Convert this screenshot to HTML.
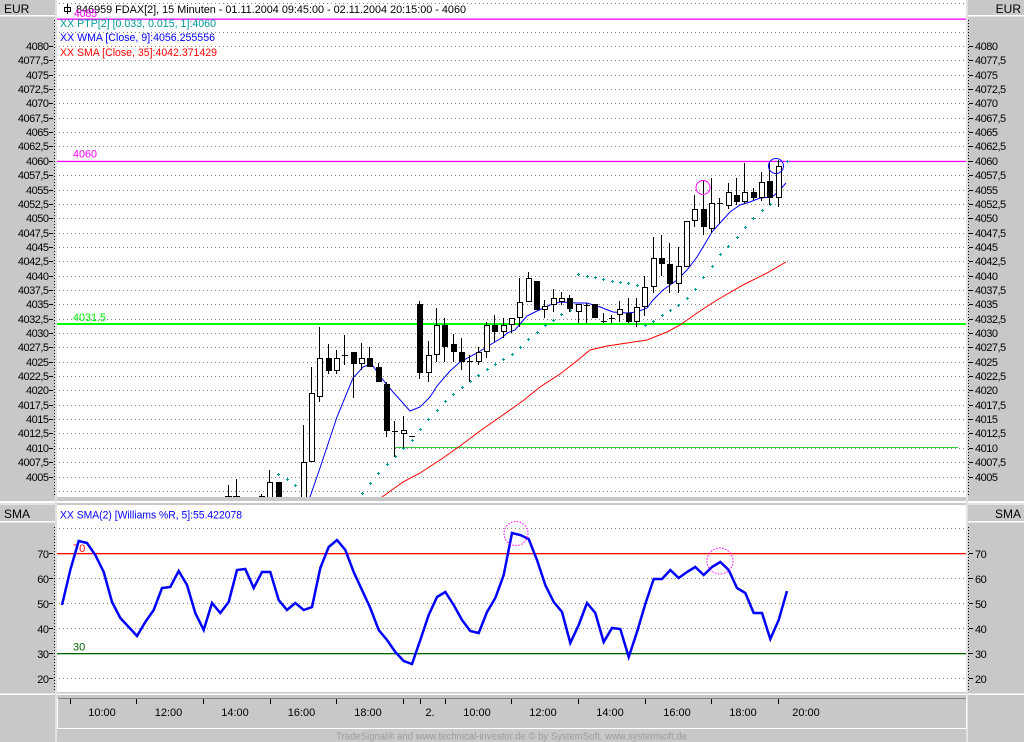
<!DOCTYPE html>
<html><head><meta charset="utf-8"><style>
html,body{margin:0;padding:0;background:#c8c8c8;}
svg{display:block;font-family:"Liberation Sans",Arial,sans-serif;}
.ax{font-size:11px;letter-spacing:-0.5px;fill:#000;}
</style></head><body>
<svg width="1024" height="742" viewBox="0 0 1024 742" xmlns="http://www.w3.org/2000/svg">
<defs>
<clipPath id="cm"><rect x="57" y="0" width="909" height="497"/></clipPath>
<clipPath id="ci"><rect x="57" y="505" width="909" height="187"/></clipPath>
</defs>
<rect x="0" y="0" width="1024" height="742" fill="#c8c8c8"/>
<!-- panels -->
<rect x="57" y="0" width="909" height="497" fill="#fff"/>
<rect x="0" y="501" width="1024" height="2" fill="#fff"/>
<rect x="57" y="505" width="909" height="187" fill="#fff"/>
<rect x="0" y="693.5" width="1024" height="1.5" fill="#fff"/>
<rect x="55" y="0" width="2" height="742" fill="#e2e2e2"/>
<rect x="966" y="0" width="2" height="742" fill="#e2e2e2"/>
<rect x="57" y="505" width="909" height="187" fill="#fff"/>
<rect x="57" y="0" width="909" height="497" fill="#fff"/>
<!-- header boxes -->
<rect x="0" y="15" width="55" height="1.5" fill="#fff"/>
<rect x="968" y="15" width="56" height="1.5" fill="#fff"/>
<text x="4" y="13" font-size="12" fill="#000">EUR</text>
<text x="1021" y="13" font-size="12" fill="#000" text-anchor="end">EUR</text>
<rect x="0" y="503.5" width="55" height="1" fill="#fff"/>
<rect x="0" y="521" width="55" height="1.5" fill="#fff"/>
<rect x="968" y="503.5" width="56" height="1" fill="#fff"/>
<rect x="968" y="521" width="56" height="1.5" fill="#fff"/>
<text x="4" y="518" font-size="12" fill="#000">SMA</text>
<text x="1021" y="518" font-size="12" fill="#000" text-anchor="end">SMA</text>

<!-- main grid -->
<path stroke="#808080" stroke-width="1" stroke-dasharray="1 3" fill="none" d="M59 3.5H966M59 32.5H966M59 46.5H966M59 60.5H966M59 75.5H966M59 89.5H966M59 103.5H966M59 118.5H966M59 132.5H966M59 146.5H966M59 175.5H966M59 190.5H966M59 204.5H966M59 218.5H966M59 233.5H966M59 247.5H966M59 261.5H966M59 276.5H966M59 290.5H966M59 304.5H966M59 319.5H966M59 333.5H966M59 347.5H966M59 362.5H966M59 376.5H966M59 390.5H966M59 405.5H966M59 419.5H966M59 433.5H966M59 448.5H966M59 462.5H966M59 477.5H966M59 491.5H966"/>
<!-- main axis dotted verticals -->
<path stroke="#000" stroke-dasharray="1 2" d="M54.5 20V496M968.5 20V496M54.5 527V691M968.5 527V691"/>
<!-- ticks main -->
<path stroke="#000" d="M49 46.5h4M49 60.5h4M49 75.5h4M49 89.5h4M49 103.5h4M49 118.5h4M49 132.5h4M49 146.5h4M49 161.5h4M49 175.5h4M49 190.5h4M49 204.5h4M49 218.5h4M49 233.5h4M49 247.5h4M49 261.5h4M49 276.5h4M49 290.5h4M49 304.5h4M49 319.5h4M49 333.5h4M49 347.5h4M49 362.5h4M49 376.5h4M49 390.5h4M49 405.5h4M49 419.5h4M49 433.5h4M49 448.5h4M49 462.5h4M49 477.5h4
M969 46.5h4M969 60.5h4M969 75.5h4M969 89.5h4M969 103.5h4M969 118.5h4M969 132.5h4M969 146.5h4M969 161.5h4M969 175.5h4M969 190.5h4M969 204.5h4M969 218.5h4M969 233.5h4M969 247.5h4M969 261.5h4M969 276.5h4M969 290.5h4M969 304.5h4M969 319.5h4M969 333.5h4M969 347.5h4M969 362.5h4M969 376.5h4M969 390.5h4M969 405.5h4M969 419.5h4M969 433.5h4M969 448.5h4M969 462.5h4M969 477.5h4
M49 553.5h4M49 578.5h4M49 603.5h4M49 628.5h4M49 653.5h4M49 678.5h4M969 553.5h4M969 578.5h4M969 603.5h4M969 628.5h4M969 653.5h4M969 678.5h4"/>
<!-- left labels -->
<g class="ax" text-anchor="end">
<text x="48.5" y="50">4080</text><text x="48.5" y="64">4077,5</text><text x="48.5" y="79">4075</text><text x="48.5" y="93">4072,5</text><text x="48.5" y="107">4070</text><text x="48.5" y="122">4067,5</text><text x="48.5" y="136">4065</text><text x="48.5" y="150">4062,5</text><text x="48.5" y="165">4060</text><text x="48.5" y="179">4057,5</text><text x="48.5" y="194">4055</text><text x="48.5" y="208">4052,5</text><text x="48.5" y="222">4050</text><text x="48.5" y="237">4047,5</text><text x="48.5" y="251">4045</text><text x="48.5" y="265">4042,5</text><text x="48.5" y="280">4040</text><text x="48.5" y="294">4037,5</text><text x="48.5" y="308">4035</text><text x="48.5" y="323">4032,5</text><text x="48.5" y="337">4030</text><text x="48.5" y="351">4027,5</text><text x="48.5" y="366">4025</text><text x="48.5" y="380">4022,5</text><text x="48.5" y="394">4020</text><text x="48.5" y="409">4017,5</text><text x="48.5" y="423">4015</text><text x="48.5" y="437">4012,5</text><text x="48.5" y="452">4010</text><text x="48.5" y="466">4007,5</text><text x="48.5" y="481">4005</text>
<text x="48.5" y="558">70</text><text x="48.5" y="583">60</text><text x="48.5" y="608">50</text><text x="48.5" y="633">40</text><text x="48.5" y="658">30</text><text x="48.5" y="683">20</text>
</g>
<!-- right labels -->
<g class="ax">
<text x="975" y="50">4080</text><text x="975" y="64">4077,5</text><text x="975" y="79">4075</text><text x="975" y="93">4072,5</text><text x="975" y="107">4070</text><text x="975" y="122">4067,5</text><text x="975" y="136">4065</text><text x="975" y="150">4062,5</text><text x="975" y="165">4060</text><text x="975" y="179">4057,5</text><text x="975" y="194">4055</text><text x="975" y="208">4052,5</text><text x="975" y="222">4050</text><text x="975" y="237">4047,5</text><text x="975" y="251">4045</text><text x="975" y="265">4042,5</text><text x="975" y="280">4040</text><text x="975" y="294">4037,5</text><text x="975" y="308">4035</text><text x="975" y="323">4032,5</text><text x="975" y="337">4030</text><text x="975" y="351">4027,5</text><text x="975" y="366">4025</text><text x="975" y="380">4022,5</text><text x="975" y="394">4020</text><text x="975" y="409">4017,5</text><text x="975" y="423">4015</text><text x="975" y="437">4012,5</text><text x="975" y="452">4010</text><text x="975" y="466">4007,5</text><text x="975" y="481">4005</text>
<text x="975" y="558">70</text><text x="975" y="583">60</text><text x="975" y="608">50</text><text x="975" y="633">40</text><text x="975" y="658">30</text><text x="975" y="683">20</text>
</g>

<g clip-path="url(#cm)">
<!-- horizontal level lines -->
<rect x="57" y="18.5" width="909" height="1.3" fill="#ff00ff"/>
<rect x="57" y="160.8" width="909" height="1.3" fill="#ff00ff"/>
<rect x="57" y="323" width="909" height="2" fill="#00ff00"/>
<rect x="395" y="447" width="563" height="1" fill="#33cc33"/>
<text x="73" y="157.5" font-size="11" fill="#ff00ff" textLength="24" lengthAdjust="spacingAndGlyphs">4060</text>
<text x="73" y="321" font-size="11" fill="#00ee00" textLength="33" lengthAdjust="spacingAndGlyphs">4031.5</text>

<!-- SMA red -->
<polyline fill="none" stroke="#ff0000" stroke-width="1" points="382,497 403,482 420,473 440,460 460,446 480,431 500,417 524,400 540,387 560,374 578,360 590,350 607,346 627,343 647,340 667,332 680,325 700,311 717,300 743,285 767,273 786,262"/>
<!-- WMA blue -->
<polyline fill="none" stroke="#0000ff" stroke-width="1" points="310,497 320,468 337,417 353,378 363,367 368,365 373,366 383,380 393,392 402,402 410,411 420,407 430,397 437,386 450,371 460,362 477,353 490,345 503,337 507,333 515,330 520,324 527,316 537,311 550,305 560,302 577,303 587,303 600,307 613,312 627,313 637,312 647,308 653,300 663,290 677,280 687,270 697,257 703,247 712,232 720,223 730,212 740,205 750,202 760,198 772,197 778,192 786,183"/>

<!-- PSAR dots -->
<path fill="none" stroke="#009999" stroke-width="1" d="M277 474.5h3M278.5 473v3M286 479.5h3M287.5 478v3M294 485.5h3M295.5 484v3
M361 493.5h3M362.5 492v3M369 483.5h3M370.5 482v3M377 473.5h3M378.5 472v3M386 464.5h3M387.5 463v3M394 456.5h3M395.5 455v3M402 448.5h3M403.5 447v3M411 440.5h3M412.5 439v3M419 429.5h3M420.5 428v3M427 419.5h3M428.5 418v3M436 410.5h3M437.5 409v3M444 401.5h3M445.5 400v3M452 394.5h3M453.5 393v3M461 387.5h3M462.5 386v3M469 381.5h3M470.5 380v3M477 375.5h3M478.5 374v3M486 369.5h3M487.5 368v3M494 364.5h3M495.5 363v3M502 359.5h3M503.5 358v3M511 354.5h3M512.5 353v3M519 347.5h3M520.5 346v3M527 339.5h3M528.5 338v3M536 332.5h3M537.5 331v3M544 325.5h3M545.5 324v3M552 320.5h3M553.5 319v3M560 314.5h3M561.5 313v3M569 310.5h3M570.5 309v3
M577 274.5h3M578.5 273v3M586 276.5h3M587.5 275v3M594 277.5h3M595.5 276v3M602 279.5h3M603.5 278v3M611 281.5h3M612.5 280v3M619 282.5h3M620.5 281v3M627 283.5h3M628.5 282v3M636 285.5h3M637.5 284v3
M644 325.5h3M645.5 324v3M652 321.5h3M653.5 320v3M661 315.5h3M662.5 314v3M669 310.5h3M670.5 309v3M677 305.5h3M678.5 304v3M686 298.5h3M687.5 297v3M694 289.5h3M695.5 288v3M702 277.5h3M703.5 276v3M711 266.5h3M712.5 265v3M719 254.5h3M720.5 253v3M727 246.5h3M728.5 245v3M736 237.5h3M737.5 236v3M744 227.5h3M745.5 226v3M752 218.5h3M753.5 217v3M761 210.5h3M762.5 209v3M769 204.5h3M770.5 203v3
M777 161.5h3M778.5 160v3M786 161.5h3M787.5 160v3"/>

<!-- wicks -->
<g fill="#000" shape-rendering="crispEdges">
<rect x="228" y="485" width="1" height="12"/><rect x="236" y="479" width="1" height="18"/><rect x="261" y="494" width="1" height="3"/>
<rect x="269" y="470" width="1" height="27"/><rect x="278" y="482" width="1" height="15"/><rect x="303" y="425" width="1" height="72"/>
<rect x="311" y="367" width="1" height="95"/><rect x="319" y="327" width="1" height="75"/><rect x="328" y="344" width="1" height="30"/>
<rect x="336" y="350" width="1" height="24"/><rect x="344" y="335" width="1" height="30"/><rect x="353" y="352" width="1" height="46"/>
<rect x="361" y="343" width="1" height="27"/><rect x="369" y="347" width="1" height="20"/><rect x="378" y="363" width="1" height="19"/>
<rect x="386" y="382" width="1" height="55"/><rect x="394" y="421" width="1" height="36"/><rect x="403" y="416" width="1" height="32"/>
<rect x="419" y="301" width="1" height="78"/><rect x="428" y="341" width="1" height="41"/><rect x="436" y="308" width="1" height="54"/>
<rect x="444" y="318" width="1" height="44"/><rect x="453" y="334" width="1" height="28"/><rect x="461" y="338" width="1" height="32"/>
<rect x="469" y="355" width="1" height="27"/><rect x="478" y="347" width="1" height="18"/><rect x="486" y="322" width="1" height="36"/>
<rect x="494" y="315" width="1" height="27"/><rect x="503" y="318" width="1" height="20"/><rect x="511" y="318" width="1" height="15"/>
<rect x="519" y="278" width="1" height="49"/><rect x="528" y="272" width="1" height="30"/><rect x="536" y="281" width="1" height="29"/>
<rect x="544" y="300" width="1" height="18"/><rect x="553" y="289" width="1" height="23"/><rect x="561" y="292" width="1" height="13"/>
<rect x="569" y="295" width="1" height="17"/><rect x="578" y="304" width="1" height="19"/><rect x="586" y="303" width="1" height="20"/>
<rect x="594" y="304" width="1" height="14"/><rect x="603" y="313" width="1" height="10"/><rect x="611" y="315" width="1" height="8"/>
<rect x="619" y="301" width="1" height="21"/><rect x="628" y="298" width="1" height="25"/><rect x="636" y="298" width="1" height="29"/>
<rect x="644" y="276" width="1" height="40"/><rect x="653" y="237" width="1" height="56"/><rect x="661" y="235" width="1" height="41"/>
<rect x="669" y="243" width="1" height="50"/><rect x="678" y="247" width="1" height="46"/><rect x="686" y="221" width="1" height="46"/>
<rect x="694" y="195" width="1" height="32"/><rect x="703" y="181" width="1" height="54"/><rect x="711" y="178" width="1" height="55"/>
<rect x="719" y="198" width="1" height="26"/><rect x="728" y="183" width="1" height="26"/><rect x="736" y="178" width="1" height="27"/>
<rect x="744" y="163" width="1" height="41"/><rect x="753" y="188" width="1" height="12"/><rect x="761" y="172" width="1" height="29"/>
<rect x="769" y="163" width="1" height="42"/><rect x="778" y="160" width="1" height="47"/>
<!-- doji dashes -->
<rect x="225" y="496" width="7" height="1"/><rect x="233" y="496" width="7" height="1"/><rect x="259" y="496" width="6" height="1"/>
<rect x="342" y="355" width="6" height="1"/><rect x="392" y="431" width="6" height="1"/><rect x="409" y="436" width="6" height="1"/>
<rect x="467" y="361" width="6" height="1"/><rect x="584" y="305" width="6" height="1"/><rect x="601" y="321" width="6" height="1"/>
<rect x="609" y="318" width="6" height="1"/><rect x="717" y="203" width="6" height="1"/>
<!-- black bodies -->
<rect x="276" y="482" width="6" height="15"/><rect x="326" y="358" width="6" height="13"/><rect x="351" y="352" width="6" height="12"/>
<rect x="367" y="358" width="6" height="9"/><rect x="376" y="367" width="6" height="15"/><rect x="384" y="384" width="6" height="47"/>
<rect x="417" y="304" width="6" height="69"/><rect x="442" y="325" width="6" height="22"/><rect x="451" y="344" width="6" height="8"/>
<rect x="459" y="352" width="6" height="10"/><rect x="492" y="325" width="6" height="7"/><rect x="534" y="281" width="6" height="29"/>
<rect x="567" y="298" width="6" height="11"/><rect x="592" y="304" width="6" height="14"/><rect x="626" y="313" width="6" height="9"/>
<rect x="659" y="258" width="6" height="6"/><rect x="667" y="264" width="6" height="20"/><rect x="701" y="209" width="6" height="18"/>
<rect x="734" y="195" width="6" height="7"/><rect x="751" y="192" width="6" height="6"/><rect x="767" y="181" width="6" height="17"/>
</g>
<!-- white bodies -->
<g fill="#fff" stroke="#000" stroke-width="1">
<rect x="267.5" y="482.5" width="5" height="16"/><rect x="301.5" y="462.5" width="5" height="40"/><rect x="309.5" y="393.5" width="5" height="68"/>
<rect x="317.5" y="358.5" width="5" height="38"/><rect x="334.5" y="358.5" width="5" height="12"/><rect x="359.5" y="358.5" width="5" height="5"/>
<rect x="401.5" y="430.5" width="5" height="3"/><rect x="426.5" y="355.5" width="5" height="17"/><rect x="434.5" y="325.5" width="5" height="29"/>
<rect x="476.5" y="352.5" width="5" height="9"/><rect x="484.5" y="325.5" width="5" height="26"/><rect x="501.5" y="325.5" width="5" height="6"/>
<rect x="509.5" y="318.5" width="5" height="6"/><rect x="517.5" y="302.5" width="5" height="15"/><rect x="526.5" y="278.5" width="5" height="23"/>
<rect x="542.5" y="306.5" width="5" height="3"/><rect x="551.5" y="298.5" width="5" height="6"/><rect x="559.5" y="298.5" width="5" height="3"/>
<rect x="576.5" y="304.5" width="5" height="7"/><rect x="617.5" y="309.5" width="5" height="5"/><rect x="634.5" y="307.5" width="5" height="14"/>
<rect x="642.5" y="287.5" width="5" height="19"/><rect x="651.5" y="258.5" width="5" height="28"/><rect x="676.5" y="266.5" width="5" height="17"/>
<rect x="684.5" y="221.5" width="5" height="45"/><rect x="692.5" y="209.5" width="5" height="11"/><rect x="709.5" y="203.5" width="5" height="25"/>
<rect x="726.5" y="192.5" width="5" height="13"/><rect x="742.5" y="192.5" width="5" height="9"/><rect x="759.5" y="182.5" width="5" height="15"/>
<rect x="776.5" y="166.5" width="5" height="31"/>
</g>
<!-- circles -->
<circle cx="703" cy="187.5" r="7" fill="none" stroke="#ff00ff" stroke-width="1"/>
<circle cx="776" cy="166" r="7.5" fill="none" stroke="#0000ff" stroke-width="1"/>
</g>

<!-- title & legends -->
<rect x="64.5" y="7.5" width="6" height="4" fill="none" stroke="#000" stroke-width="1"/>
<rect x="67" y="4" width="1" height="10" fill="#000"/>
<text x="76" y="13" font-size="11" fill="#000" textLength="390" lengthAdjust="spacingAndGlyphs">846959  FDAX[2], 15 Minuten - 01.11.2004 09:45:00 - 02.11.2004 20:15:00 - 4060</text>
<text x="74" y="17" font-size="11" fill="#ff00ff" textLength="23" lengthAdjust="spacingAndGlyphs">4085</text>
<text x="60" y="27" font-size="11" fill="#009999" textLength="156" lengthAdjust="spacingAndGlyphs">XX PTP[2] [0.033, 0.015, 1]:4060</text>
<text x="60" y="41" font-size="11" fill="#0000ff" textLength="155" lengthAdjust="spacingAndGlyphs">XX WMA [Close, 9]:4056.255556</text>
<text x="60" y="56" font-size="11" fill="#ff0000" textLength="157" lengthAdjust="spacingAndGlyphs">XX SMA [Close, 35]:4042.371429</text>

<!-- indicator panel -->
<g clip-path="url(#ci)">
<path stroke="#808080" stroke-width="1" stroke-dasharray="1 3" fill="none" d="M59 528.5H966M59 578.5H966M59 603.5H966M59 628.5H966M59 678.5H966"/>
<rect x="57" y="553" width="909" height="1.3" fill="#ff0000"/>
<rect x="57" y="653" width="909" height="1.3" fill="#006400"/>
<text x="73" y="552" font-size="11" fill="#ff0000">70</text>
<text x="73" y="650.5" font-size="11" fill="#006400">30</text>
<polyline fill="none" stroke="#0000ff" stroke-width="2.5" stroke-linejoin="miter" points="62,605 70.3,570 78.7,541 87,543 95.3,555 103.7,572 112,602 120.3,618 128.7,627 137,636 145.3,622 153.7,610 162,588 170.3,587 178.7,571 187,585 195.3,613 203.7,630 212,603 220.3,613 228.7,602 237,570 245.3,569 253.7,588 262,572 270.3,572 278.7,600 287,610 295.3,603 303.7,610 312,607 320.3,568 328.7,547 337,540 345.3,550 353.7,572 362,590 370.3,608 378.7,630 387,640 395.3,652 403.7,661 412,664 420.3,640 428.7,615 437,597 445.3,592 453.7,605 462,620 470.3,631 478.7,633 487,612 495.3,598 503.7,575 512,533 520.3,535 528.7,539 537,560 545.3,585 553.7,602 562,612 570.3,643 578.7,625 587,603 595.3,613 603.7,642 612,628 620.3,629 628.7,657 637,632 645.3,604 653.7,579 662,579 670.3,570 678.7,578 687,572 695.3,567 703.7,575 712,567 720.3,562 728.7,570 737,588 745.3,593 753.7,613 762,613 770.3,639 778.7,620 787,591"/>
<circle cx="516" cy="533.5" r="12" fill="none" stroke="#ff00ff" stroke-width="1" stroke-dasharray="1.5 1.5"/>
<circle cx="720" cy="561" r="13" fill="none" stroke="#ff00ff" stroke-width="1" stroke-dasharray="1.5 1.5"/>
</g>
<text x="60" y="518.5" font-size="11" fill="#0000ff" textLength="182" lengthAdjust="spacingAndGlyphs">XX SMA(2) [Williams %R, 5]:55.422078</text>

<!-- time axis box -->
<rect x="57" y="698" width="909" height="1" fill="#808080"/>
<rect x="57" y="698" width="1" height="31" fill="#fff"/>
<rect x="57" y="728" width="910" height="1" fill="#fff"/>
<rect x="966" y="698" width="1" height="31" fill="#fff"/>
<path stroke="#000" stroke-width="1" d="M70.5 699v5M136.5 699v5M203.5 699v5M270.5 699v5M336.5 699v5M403.5 699v5M420.5 699v5M445.5 699v5M511.5 699v5M578.5 699v5M645.5 699v5M711.5 699v5M778.5 699v5"/>
<g font-size="11" fill="#000" text-anchor="middle">
<text x="102" y="716">10:00</text><text x="168.5" y="716">12:00</text><text x="235" y="716">14:00</text><text x="301.5" y="716">16:00</text><text x="368" y="716">18:00</text>
<text x="430" y="716">2.</text>
<text x="477" y="716">10:00</text><text x="543" y="716">12:00</text><text x="610" y="716">14:00</text><text x="677" y="716">16:00</text><text x="743" y="716">18:00</text><text x="806" y="716">20:00</text>
</g>
<text x="336" y="739.5" font-size="10" fill="#9c9c9c" textLength="351" lengthAdjust="spacingAndGlyphs">TradeSignal® and www.technical-investor.de © by SystemSoft, www.systemsoft.de</text>
</svg>
</body></html>
